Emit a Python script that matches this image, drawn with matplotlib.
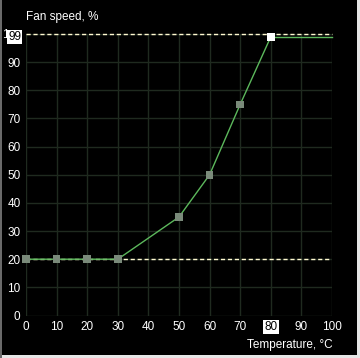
import matplotlib
matplotlib.use("Agg")
import matplotlib.pyplot as plt
from matplotlib.patches import Rectangle

temps = [0, 10, 20, 30, 50, 60, 70, 80]
speeds = [20, 20, 20, 20, 35, 50, 75, 99]
tail_x = [80, 100]
tail_y = [99, 99]
selected_idx = 7
min_limit = 20
max_limit = 100
xticks = [0, 10, 20, 30, 40, 50, 60, 70, 80, 90, 100]
yticks = [0, 10, 20, 30, 40, 50, 60, 70, 80, 90, 100]

plt.rcParams['font.family'] = ['Liberation Sans', 'DejaVu Sans']
fig = plt.figure(figsize=(3.6, 3.58), dpi=100, facecolor='black')
ax = fig.add_axes([26/360, 1 - 315.5/358, (332-26)/360, (315.5-34)/358])
ax.set_facecolor('black')
ax.set_xlim(0, 100)
ax.set_ylim(0, 100)
ax.set_xticks(xticks)
ax.set_yticks(yticks)
ax.grid(True, color='#1f2a1f', linewidth=1.0)
for s in ax.spines.values():
    s.set_visible(False)
ax.tick_params(colors='white', length=0, labelsize=8.5, pad=4)
ax.set_yticklabels([str(v) if v != 100 else '' for v in yticks])
for lbl in ax.get_xticklabels():
    if lbl.get_text() == '80':
        lbl.set_bbox(dict(facecolor='white', edgecolor='none', pad=1))
        lbl.set_color('black')
ax.text(-1.5, 99, '99', color='black', fontsize=8.5, ha='right', va='center',
        bbox=dict(facecolor='white', edgecolor='none', pad=0.8), clip_on=False)
ax.text(-5.6, 99.5, '1', color='white', fontsize=8.5, ha='right', va='center', clip_on=False, zorder=0)

ax.axhline(max_limit, color='#fff8d0', linestyle=(0, (3, 2)), linewidth=1.0, clip_on=False, zorder=2)
ax.axhline(min_limit, color='#fff8d0', linestyle=(0, (3, 2)), linewidth=1.0, zorder=2)

ax.plot(tail_x, tail_y, color='#5cb85c', linewidth=1.0, zorder=3, clip_on=False)
ax.plot(temps, speeds, color='#5cb85c', linewidth=1.0, zorder=3, clip_on=False)
colors = ['white' if i == selected_idx else '#7a8a7a' for i in range(len(temps))]
ax.scatter(temps, speeds, marker='s', s=30, c=colors, zorder=4, clip_on=False, linewidths=0)

fig.text(26/360, 1 - 17/358, 'Fan speed, %', color='white', fontsize=8.5, ha='left', va='center')
fig.text(333/360, 1 - 345/358, 'Temperature, °C', color='white', fontsize=8.5, ha='right', va='center')

fig.patches.append(Rectangle((357/360, 0), 3/360, 1, transform=fig.transFigure, facecolor='#e6e6e6', edgecolor='none'))
fig.patches.append(Rectangle((0, 0), 1, 3/358, transform=fig.transFigure, facecolor='#e6e6e6', edgecolor='none'))
fig.patches.append(Rectangle((0, 0), 1.5/360, 1, transform=fig.transFigure, facecolor='#6a6a6a', edgecolor='none'))

fig.savefig('out.png', dpi=100, facecolor='black')
